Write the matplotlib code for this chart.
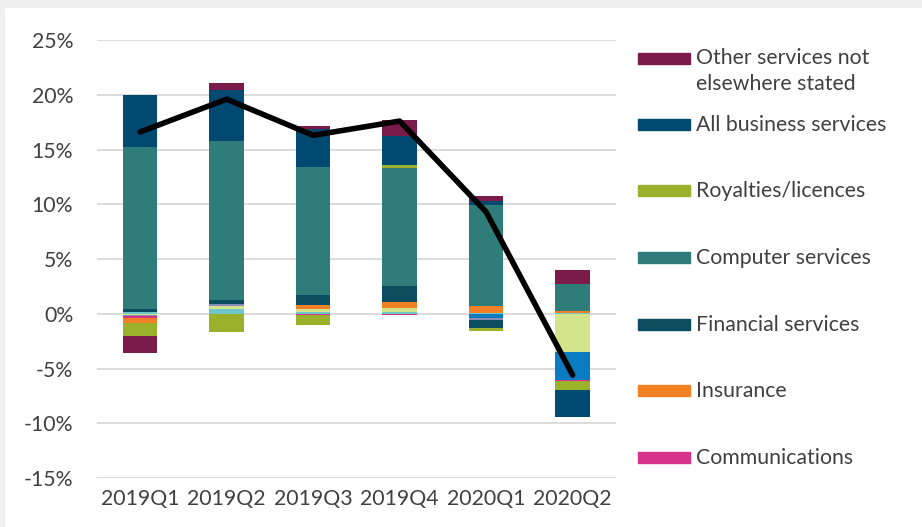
import matplotlib.pyplot as plt
from matplotlib.patches import Rectangle

quarters = ['2019Q1', '2019Q2', '2019Q3', '2019Q4', '2020Q1', '2020Q2']

# stacked series, bottom of the stack first (three are not named in the legend)
light_cyan = [0.20, 0.40, 0.20, 0.20, 0.05, 0.10]
light_green = [-0.10, 0.30, 0.25, 0.31, 0.00, -3.45]
blue = [0.00, 0.00, 0.00, 0.00, -0.40, -2.60]
lavender = [-0.15, 0.20, 0.00, 0.00, -0.15, 0.00]
communications = [-0.10, 0.00, -0.10, -0.10, 0.00, -0.13]
insurance = [-0.45, 0.00, 0.37, 0.60, 0.70, 0.18]
financial = [0.20, 0.40, 0.85, 1.44, -0.77, 0.00]
computer = [14.80, 14.50, 11.70, 10.80, 9.15, 2.45]
royalties = [-1.25, -1.65, -0.90, 0.27, -0.27, -0.76]
business = [4.80, 4.60, 3.55, 2.60, 0.40, -2.53]
other = [-1.50, 0.70, 0.25, 1.50, 0.50, 1.25]

total = [16.6, 19.6, 16.3, 17.6, 9.3, -5.6]

series = [light_cyan, light_green, blue, lavender, communications, insurance,
          financial, computer, royalties, business, other]
colours = ['#6fc8c8', '#d4e48a', '#0a7dc2', '#8a8ab8', '#d7338b', '#f28024',
           '#0b4d5f', '#2e7d7b', '#9bb12b', '#004a72', '#7b1b4a']

legend_items = [('Other services not\nelsewhere stated', '#7b1b4a'),
                ('All business services', '#004a72'),
                ('Royalties/licences', '#9bb12b'),
                ('Computer services', '#2e7d7b'),
                ('Financial services', '#0b4d5f'),
                ('Insurance', '#f28024'),
                ('Communications', '#d7338b')]

plt.rcParams['font.family'] = ['Lato', 'DejaVu Sans']
FS = 15.3

fig = plt.figure(figsize=(9.22, 5.27), dpi=100)
ax = fig.add_axes([0.105, 0.093, 0.563, 0.831])

x = list(range(len(quarters)))
pos_base = [0.0] * len(quarters)
neg_base = [0.0] * len(quarters)
for vals, col in zip(series, colours):
    bottoms = []
    for i, v in enumerate(vals):
        if v >= 0:
            bottoms.append(pos_base[i])
            pos_base[i] += v
        else:
            bottoms.append(neg_base[i])
            neg_base[i] += v
    ax.bar(x, vals, bottom=bottoms, width=0.4, color=col, zorder=2)

ax.plot(x, total, color='black', linewidth=4.0, solid_capstyle='round',
        solid_joinstyle='round', zorder=3)

ax.set_xlim(-0.5, 5.5)
ax.set_ylim(-15, 25)
ax.set_yticks(range(-15, 26, 5))
ax.set_yticklabels([f'{t}%' for t in range(-15, 26, 5)])
ax.set_xticks(x)
ax.set_xticklabels(quarters)
ax.grid(axis='y', color='#d9d9d9', linewidth=1.3, zorder=0)
for s in ax.spines.values():
    s.set_visible(False)
ax.tick_params(length=0, labelsize=FS, colors='#404040', pad=8)
ax.tick_params(axis='y', pad=17)

# legend drawn by hand on the right
W, H = 922, 527
ys = [59, 125, 191, 258, 325, 391, 458]
for (label, col), yy in zip(legend_items, ys):
    fig.add_artist(Rectangle((638 / W, 1 - (yy + 5) / H), 52 / W, 11 / H,
                             transform=fig.transFigure, color=col))
    if '\n' in label:
        fig.text(696 / W, 1 - (yy - 11) / H, label, fontsize=FS, color='#404040',
                 va='top', ha='left', linespacing=1.4)
    else:
        fig.text(696 / W, 1 - yy / H, label, fontsize=FS, color='#404040',
                 va='center', ha='left')

# grey frame at top and left
fig.add_artist(Rectangle((0, 1 - 7 / H), 1, 7 / H, transform=fig.transFigure,
                         color='#f0f0f0'))
fig.add_artist(Rectangle((0, 0), 4 / W, 1, transform=fig.transFigure,
                         color='#f0f0f0'))

fig.savefig('out.png', dpi=100)
